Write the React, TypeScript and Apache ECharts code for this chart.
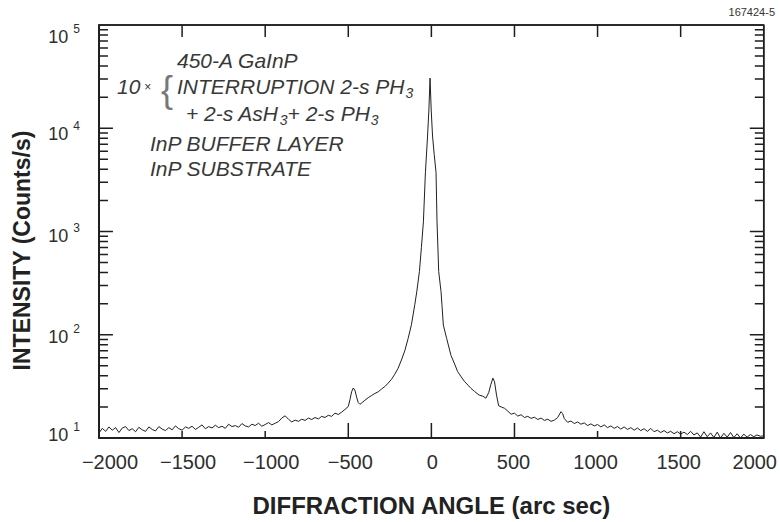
import React, { useEffect, useRef } from "react";
import * as echarts from "echarts";

// Diffraction angle (arc sec) and intensity (counts/s)
const angles = [
  -2000, -1980, -1960, -1940, -1920, -1900, -1880, -1860, -1840, -1820, -1800, -1780, -1760, -1740, -1720,
  -1700, -1680, -1660, -1640, -1620, -1600, -1580, -1560, -1540, -1520, -1500, -1480, -1460, -1440, -1420,
  -1400, -1380, -1360, -1340, -1320, -1300, -1280, -1260, -1240, -1220, -1200, -1180, -1160, -1140, -1120,
  -1100, -1080, -1060, -1040, -1020, -1000, -980, -960, -940, -920, -900, -880, -860, -840, -820,
  -800, -780, -760, -740, -720, -700, -680, -660, -640, -620, -600, -580, -560, -540, -520,
  -500, -490, -480, -470, -460, -450, -440, -430, -420, -400, -380, -360, -340, -320, -300,
  -280, -260, -240, -220, -200, -180, -160, -140, -120, -100, -88, -72, -60, -48, -36,
  -23, -15, -8, -1, 7, 17, 28, 34, 44, 58, 64, 72, 92, 118, 140,
  158, 180, 198, 220, 238, 260, 288, 310, 328, 345, 358, 370, 380, 392, 405,
  420, 440, 460, 480, 500, 520, 540, 560, 580, 600, 620, 640, 660, 680, 700,
  720, 740, 760, 780, 790, 800, 820, 840, 860, 880, 900, 920, 940, 960, 980,
  1000, 1020, 1040, 1060, 1080, 1100, 1120, 1140, 1160, 1180, 1200, 1220, 1240, 1260, 1280,
  1300, 1320, 1340, 1360, 1380, 1400, 1420, 1440, 1460, 1480, 1500, 1520, 1540, 1560, 1580,
  1600, 1620, 1640, 1660, 1680, 1700, 1720, 1740, 1760, 1780, 1800, 1820, 1840, 1860, 1880,
  1900, 1920, 1940, 1960, 1980, 2000,
];

const counts = [
  11.2, 12.4, 11.6, 12.8, 11.9, 12.6, 11.3, 12.5, 12.9, 11.8, 12.3, 11.5, 12.7, 12.0, 11.6,
  12.8, 12.1, 11.7, 12.9, 12.2, 11.8, 12.6, 12.0, 13.1, 12.3, 11.9, 12.8, 12.4, 13.0, 12.1,
  12.7, 13.4, 12.3, 12.9, 12.5, 13.3, 12.6, 13.0, 12.4, 13.6, 12.9, 13.2, 12.7, 13.8, 13.1,
  12.8, 13.6, 13.2, 13.9, 13.0, 13.5, 14.1, 13.4, 13.9, 14.4, 15.6, 16.4, 15.2, 14.3, 14.9,
  14.5, 15.2, 14.8, 15.6, 15.1, 15.8, 15.3, 16.2, 15.8, 16.6, 16.2, 17.4, 16.9, 17.8, 18.9,
  20.2, 23.5, 28.0, 30.5, 29.0, 25.0, 22.0, 21.2, 21.8, 23.2, 24.6, 25.8, 27.0, 28.0, 29.8,
  31.5, 34.0, 37.0, 41.5, 47.5, 57, 70, 92, 125, 195, 260, 410, 700, 1240, 3700,
  8400, 15000, 30600, 15000, 8400, 5600, 3740, 1240, 410, 262, 192, 124, 92, 63, 52,
  44, 39, 35.5, 32.5, 30.3, 28.2, 26.0, 25.4, 24.3, 27.5, 33, 38, 35, 26, 20.5,
  20.0, 19.4, 18.2, 17.0, 17.4, 16.3, 16.8, 15.8, 16.2, 15.5, 15.9, 15.1, 15.6, 14.8, 15.2,
  14.5, 14.9, 15.8, 18.0, 17.2, 15.4, 14.2, 14.6, 13.8, 14.3, 13.6, 14.0, 13.2, 13.7, 13.1,
  13.5, 12.8, 13.4, 12.6, 13.1, 12.4, 12.9, 12.2, 12.8, 12.1, 12.6, 11.9, 12.5, 11.8, 12.3,
  11.6, 12.4, 11.5, 11.9, 11.3, 11.8, 11.2, 11.6, 11.0, 11.5, 10.9, 11.4, 10.8, 11.6, 10.7,
  11.2, 10.2, 11.5, 10.3, 11.2, 10.1, 11.4, 10.0, 11.1, 10.2, 11.3, 10.1, 11.0, 10.0, 10.9,
  10.2, 10.8, 10.3, 10.7, 10.4, 10.5,
];

const xTickStep = 500;
const xRange = [-2000, 2000];
const yRange = [10, 100000];
const xInnerTicks = [-1500, -1000, -500, 0, 500, 1000, 1500];
const xLongBottomTicks = [-500, 0, 500];
const yMajorTicks = [100, 1000, 10000];
const yMinorTicks = [
  20, 30, 40, 50, 60, 70, 80, 90,
  200, 300, 400, 500, 600, 700, 800, 900,
  2000, 3000, 4000, 5000, 6000, 7000, 8000, 9000,
  20000, 30000, 40000, 50000, 60000, 70000, 80000, 90000,
];
// vertical shift of each decade label (px, + = down), as placed in the figure
const yLabelShift: Record<number, number> = { 1: -3, 2: 2, 3: 4, 4: 6, 5: 12 };
// horizontal shift of each angle label (px, + = right), as placed in the figure
const xLabelShift: Record<string, number> = {
  "-2000": 11, "-1500": 6, "-1000": 6, "-500": 2, "0": 1, "500": -1, "1000": -2, "1500": -2, "2000": -9,
};

const xTitle = "DIFFRACTION ANGLE (arc sec)";
const yTitle = "INTENSITY (Counts/s)";
const figId = "167424-5";

const FONT = "'Liberation Sans', Arial, Helvetica, sans-serif";
const INK = "#1e1e1e";
const TXT = "#2e2e2e";
const W = 780;
const H = 522;
const GRID = { left: 99, right: 13, top: 25, bottom: 82 };

export default function App() {
  const ref = useRef<HTMLDivElement>(null);
  useEffect(() => {
    if (!ref.current) return;
    const chart = echarts.init(ref.current, undefined, { renderer: "svg" });

    const yRich: Record<string, any> = {};
    for (let n = 1; n <= 5; n++) {
      const d = yLabelShift[n];
      yRich["b" + n] = { fontSize: 18, fontFamily: FONT, color: TXT, padding: [d > 0 ? 2 * d : 0, 0, d < 0 ? -2 * d : 0, 0] };
      const s = d - 8;
      yRich["s" + n] = { fontSize: 12, fontFamily: FONT, color: TXT, padding: [s > 0 ? 2 * s : 0, 0, s < 0 ? -2 * s : 0, 5] };
    }
    const xKeys = Object.keys(xLabelShift);
    const xRich: Record<string, any> = {};
    xKeys.forEach((k, i) => {
      const s = xLabelShift[k];
      xRich["x" + i] = { fontSize: 20, fontFamily: FONT, color: TXT, padding: [0, s < 0 ? -2 * s : 0, 0, s > 0 ? 2 * s : 0] };
    });

    // tick lengths in px turned into axis units (the frame ticks are drawn as line paths along the frame)
    const plotW = W - GRID.left - GRID.right;
    const plotH = H - GRID.top - GRID.bottom;
    const xPerPx = (xRange[1] - xRange[0]) / plotW;
    const decPerPx = Math.log10(yRange[1] / yRange[0]) / plotH;
    const up = (v: number, px: number) => v * Math.pow(10, px * decPerPx);

    const bottomPath: any[] = [[xRange[0], yRange[0]]];
    const topPath: any[] = [[xRange[0], yRange[1]]];
    xInnerTicks.forEach((v) => {
      const lb = xLongBottomTicks.indexOf(v) >= 0 ? 15 : 7;
      bottomPath.push([v, yRange[0]], [v, up(yRange[0], lb)], [v, yRange[0]]);
      topPath.push([v, yRange[1]], [v, up(yRange[1], -12)], [v, yRange[1]]);
    });
    bottomPath.push([xRange[1], yRange[0]]);
    topPath.push([xRange[1], yRange[1]]);

    const yTicks = yMajorTicks.concat(yMinorTicks).sort((a, b) => a - b);
    const leftPath: any[] = [[xRange[0], yRange[0]]];
    const rightPath: any[] = [[xRange[1], yRange[0]]];
    yTicks.forEach((v) => {
      const len = yMajorTicks.indexOf(v) >= 0 ? 14 : 9;
      leftPath.push([xRange[0], v], [xRange[0] + len * xPerPx, v], [xRange[0], v]);
      rightPath.push([xRange[1], v], [xRange[1] - len * xPerPx, v], [xRange[1], v]);
    });
    leftPath.push([xRange[0], yRange[1]]);
    rightPath.push([xRange[1], yRange[1]]);

    const tickSeries = (data: any[]) => ({
      type: "line", data, showSymbol: false, symbol: "none", silent: true, clip: false,
      lineStyle: { color: INK, width: 1.5 }, z: 3,
    });

    const annStyle = { fontSize: 21, fontStyle: "italic", fontFamily: FONT, fill: "#383838" };
    const annRich = {
      t: { fontSize: 21, fontStyle: "italic", fontFamily: FONT, color: "#383838" },
      sub: { fontSize: 14, fontStyle: "italic", fontFamily: FONT, color: "#383838", padding: [12, 0, 0, 1] },
      x: { fontSize: 12, fontFamily: FONT, color: "#383838", padding: [0, 0, 0, 4] },
    };

    chart.setOption({
      animation: false,
      grid: { ...GRID, show: true, borderColor: INK, borderWidth: 1.6, backgroundColor: "transparent" },
      xAxis: {
        type: "value", min: xRange[0], max: xRange[1], interval: xTickStep,
        axisLine: { show: true, onZero: false, lineStyle: { color: INK, width: 1.6 } },
        axisTick: { show: false },
        axisLabel: {
          margin: 14,
          formatter: (v: number) => {
            const i = xKeys.indexOf(String(v));
            const t = v < 0 ? "\u2212" + String(-v) : String(v);
            return `{x${i}|${t}}`;
          },
          rich: xRich,
        },
        splitLine: { show: false },
        name: xTitle, nameLocation: "middle", nameGap: 55,
        nameTextStyle: { fontSize: 24, fontWeight: "bold", fontFamily: FONT, color: "#222" },
      },
      yAxis: {
        type: "log", min: yRange[0], max: yRange[1],
        axisLine: { show: true, onZero: false, lineStyle: { color: INK, width: 1.6 } },
        axisTick: { show: false },
        axisLabel: {
          margin: 19,
          formatter: (v: number) => {
            const n = Math.round(Math.log10(v));
            return `{b${n}|10}{s${n}|${n}}`;
          },
          rich: yRich,
        },
        splitLine: { show: false },
        name: yTitle, nameLocation: "middle", nameGap: 66,
        nameTextStyle: { fontSize: 23, fontWeight: "bold", fontFamily: FONT, color: "#222", padding: [0, 38, 0, 0] },
      },
      series: [
        {
          type: "line",
          data: angles.map((a, i) => [a, counts[i]]),
          showSymbol: false,
          lineStyle: { color: "#202020", width: 1 },
        },
        tickSeries(bottomPath),
        tickSeries(topPath),
        tickSeries(leftPath),
        tickSeries(rightPath),
      ],
      graphic: [
        { type: "text", left: 177, top: 50, style: { text: "450-A GaInP", ...annStyle } },
        { type: "text", left: 117, top: 76, style: { text: "{t|10}{x|×}", rich: annRich, ...annStyle } },
        { type: "text", left: 161, top: 71, style: { text: "{", fontSize: 36, fontFamily: FONT, fill: "#777" } },
        { type: "text", left: 177, top: 76, style: { text: "{t|INTERRUPTION 2-s PH}{sub|3}", rich: annRich, ...annStyle } },
        { type: "text", left: 186, top: 103, style: { text: "{t|+ 2-s AsH}{sub|3}{t|+ 2-s PH}{sub|3}", rich: annRich, ...annStyle } },
        { type: "text", left: 150, top: 133, style: { text: "InP BUFFER LAYER", ...annStyle } },
        { type: "text", left: 150, top: 158, style: { text: "InP SUBSTRATE", ...annStyle } },
        { type: "text", right: 5, top: 6, style: { text: figId, fontSize: 11, fontFamily: FONT, fill: "#333" } },
      ],
    });
    return () => chart.dispose();
  }, []);
  return (
    <div style={{ position: "fixed", left: 0, top: 0, width: W, height: H, background: "#fff" }}>
      <div ref={ref} style={{ position: "absolute", left: 0, top: 0, width: W, height: H }} />
    </div>
  );
}
